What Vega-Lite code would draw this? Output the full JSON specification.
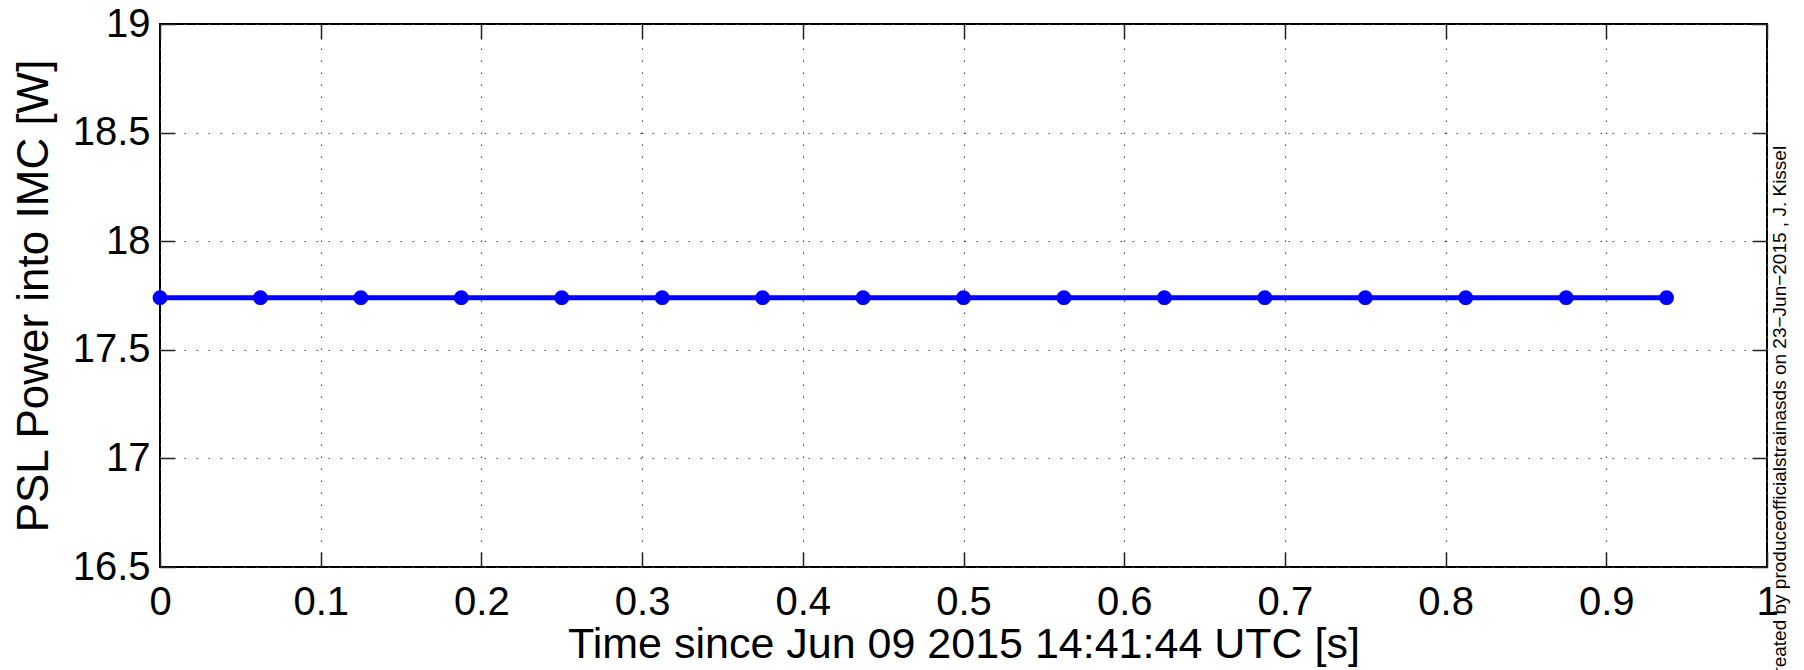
{
  "$schema": "https://vega.github.io/schema/vega-lite/v6.json",
  "width": 1607,
  "height": 543,
  "autosize": {"type": "none"},
  "padding": {"left": 160, "top": 24, "right": 37, "bottom": 103},
  "background": "white",
  "config": {
    "font": "Liberation Sans",
    "view": {"stroke": "black", "strokeWidth": 2}
  },
  "data": {
    "values": [
      {"t": 0.0, "p": 17.74},
      {"t": 0.0625, "p": 17.74},
      {"t": 0.125, "p": 17.74},
      {"t": 0.1875, "p": 17.74},
      {"t": 0.25, "p": 17.74},
      {"t": 0.3125, "p": 17.74},
      {"t": 0.375, "p": 17.74},
      {"t": 0.4375, "p": 17.74},
      {"t": 0.5, "p": 17.74},
      {"t": 0.5625, "p": 17.74},
      {"t": 0.625, "p": 17.74},
      {"t": 0.6875, "p": 17.74},
      {"t": 0.75, "p": 17.74},
      {"t": 0.8125, "p": 17.74},
      {"t": 0.875, "p": 17.74},
      {"t": 0.9375, "p": 17.74}
    ]
  },
  "resolve": {"axis": {"x": "independent", "y": "independent"}},
  "layer": [
    {
      "mark": {"type": "line", "color": "#0000ff", "strokeWidth": 5, "clip": true},
      "encoding": {
        "x": {
          "field": "t", "type": "quantitative",
          "scale": {"domain": [0, 1], "nice": false, "zero": false},
          "axis": {
            "orient": "bottom",
            "values": [0, 0.1, 0.2, 0.3, 0.4, 0.5, 0.6, 0.7, 0.8, 0.9, 1],
            "format": "~g",
            "title": "Time since Jun 09 2015 14:41:44 UTC [s]",
            "titleFontSize": 43, "titleFontWeight": "normal", "titleColor": "black",
            "titlePadding": 1,
            "labelFontSize": 40, "labelColor": "black", "labelPadding": 30,
            "labelOverlap": false, "labelFlush": false,
            "tickSize": -15, "tickColor": "#222222", "tickWidth": 1.5,
            "domain": false,
            "grid": true, "gridColor": "#444444", "gridDash": [1.5, 10.5], "gridWidth": 1.2
          }
        },
        "y": {
          "field": "p", "type": "quantitative",
          "scale": {"domain": [16.5, 19], "nice": false, "zero": false},
          "axis": {
            "orient": "left",
            "values": [16.5, 17, 17.5, 18, 18.5, 19],
            "format": "~g",
            "title": "PSL Power into IMC [W]",
            "titleFontSize": 44, "titleFontWeight": "normal", "titleColor": "black",
            "titlePadding": 16,
            "labelFontSize": 40, "labelColor": "black", "labelPadding": 25,
            "labelOverlap": false, "labelFlush": false,
            "tickSize": -15, "tickColor": "#222222", "tickWidth": 1.5,
            "domain": false,
            "grid": true, "gridColor": "#444444", "gridDash": [1.5, 10.5], "gridWidth": 1.2
          }
        }
      }
    },
    {
      "mark": {"type": "point", "filled": true, "size": 220, "color": "#0000ff", "opacity": 1},
      "encoding": {
        "x": {
          "field": "t", "type": "quantitative",
          "axis": {
            "orient": "top",
            "values": [0, 0.1, 0.2, 0.3, 0.4, 0.5, 0.6, 0.7, 0.8, 0.9, 1],
            "labels": false, "title": null,
            "tickSize": -15, "tickColor": "#222222", "tickWidth": 1.5,
            "domain": false, "grid": false
          }
        },
        "y": {
          "field": "p", "type": "quantitative",
          "axis": {
            "orient": "right",
            "values": [16.5, 17, 17.5, 18, 18.5, 19],
            "labels": false,
            "title": "created by produceofficialstrainasds on 23−Jun−2015 , J. Kissel",
            "titleFontSize": 19, "titleFontWeight": "normal", "titleColor": "black",
            "titleAngle": 270, "titlePadding": 22, "titleY": 390,
            "tickSize": -15, "tickColor": "#222222", "tickWidth": 1.5,
            "domain": false, "grid": false
          }
        }
      }
    }
  ]
}
